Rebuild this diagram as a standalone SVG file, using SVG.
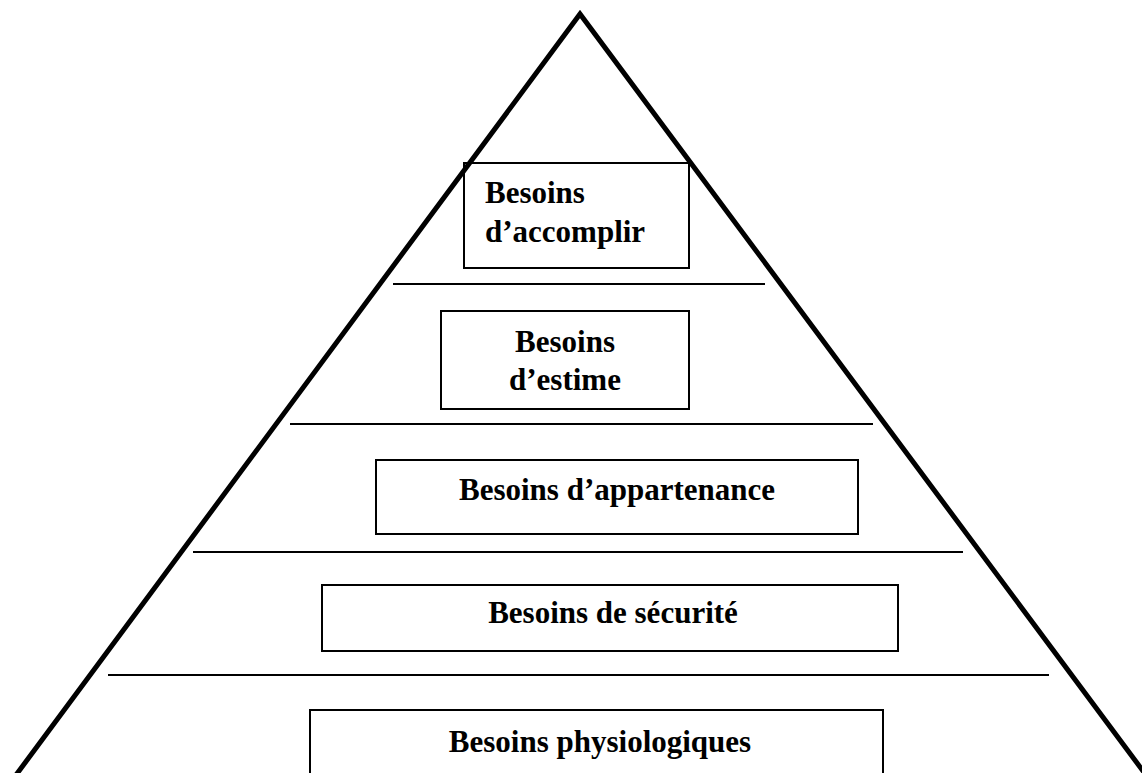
<svg xmlns="http://www.w3.org/2000/svg" width="1142" height="773" viewBox="0 0 1142 773">
<style>
.box{fill:#fff;stroke:#000;stroke-width:2}
.sep{stroke:#000;stroke-width:2}
.tri{fill:none;stroke:#000;stroke-width:5;stroke-linejoin:miter}
.t{font-family:"Liberation Serif","Times New Roman",serif;font-weight:bold;font-size:31px;fill:#000}
</style>
<rect width="1142" height="773" fill="#fff"/>
<g id="n1">
<rect class="box" x="464" y="163" width="225" height="105"/>
<text class="t" x="485" y="203">Besoins</text>
<text class="t" x="485" y="242">d’accomplir</text>
</g>
<g id="n2">
<rect class="box" x="441" y="311" width="248" height="98"/>
<text class="t" x="565" y="352" text-anchor="middle">Besoins</text>
<text class="t" x="565" y="390" text-anchor="middle">d’estime</text>
</g>
<g id="n3">
<rect class="box" x="376" y="460" width="482" height="74"/>
<text class="t" x="617" y="500" text-anchor="middle">Besoins d’appartenance</text>
</g>
<g id="n4">
<rect class="box" x="322" y="585" width="576" height="66"/>
<text class="t" x="613" y="623" text-anchor="middle">Besoins de sécurité</text>
</g>
<g id="n5">
<rect class="box" x="310" y="710" width="573" height="80"/>
<text class="t" x="600" y="752" text-anchor="middle">Besoins physiologiques</text>
</g>
<g id="connectors">
<polyline class="tri" points="16,775 580,14 1146,775"/>
<line class="sep" x1="393" y1="284" x2="765" y2="284"/>
<line class="sep" x1="290" y1="424" x2="873" y2="424"/>
<line class="sep" x1="193" y1="552" x2="963" y2="552"/>
<line class="sep" x1="108" y1="675" x2="1049" y2="675"/>
</g>
</svg>
